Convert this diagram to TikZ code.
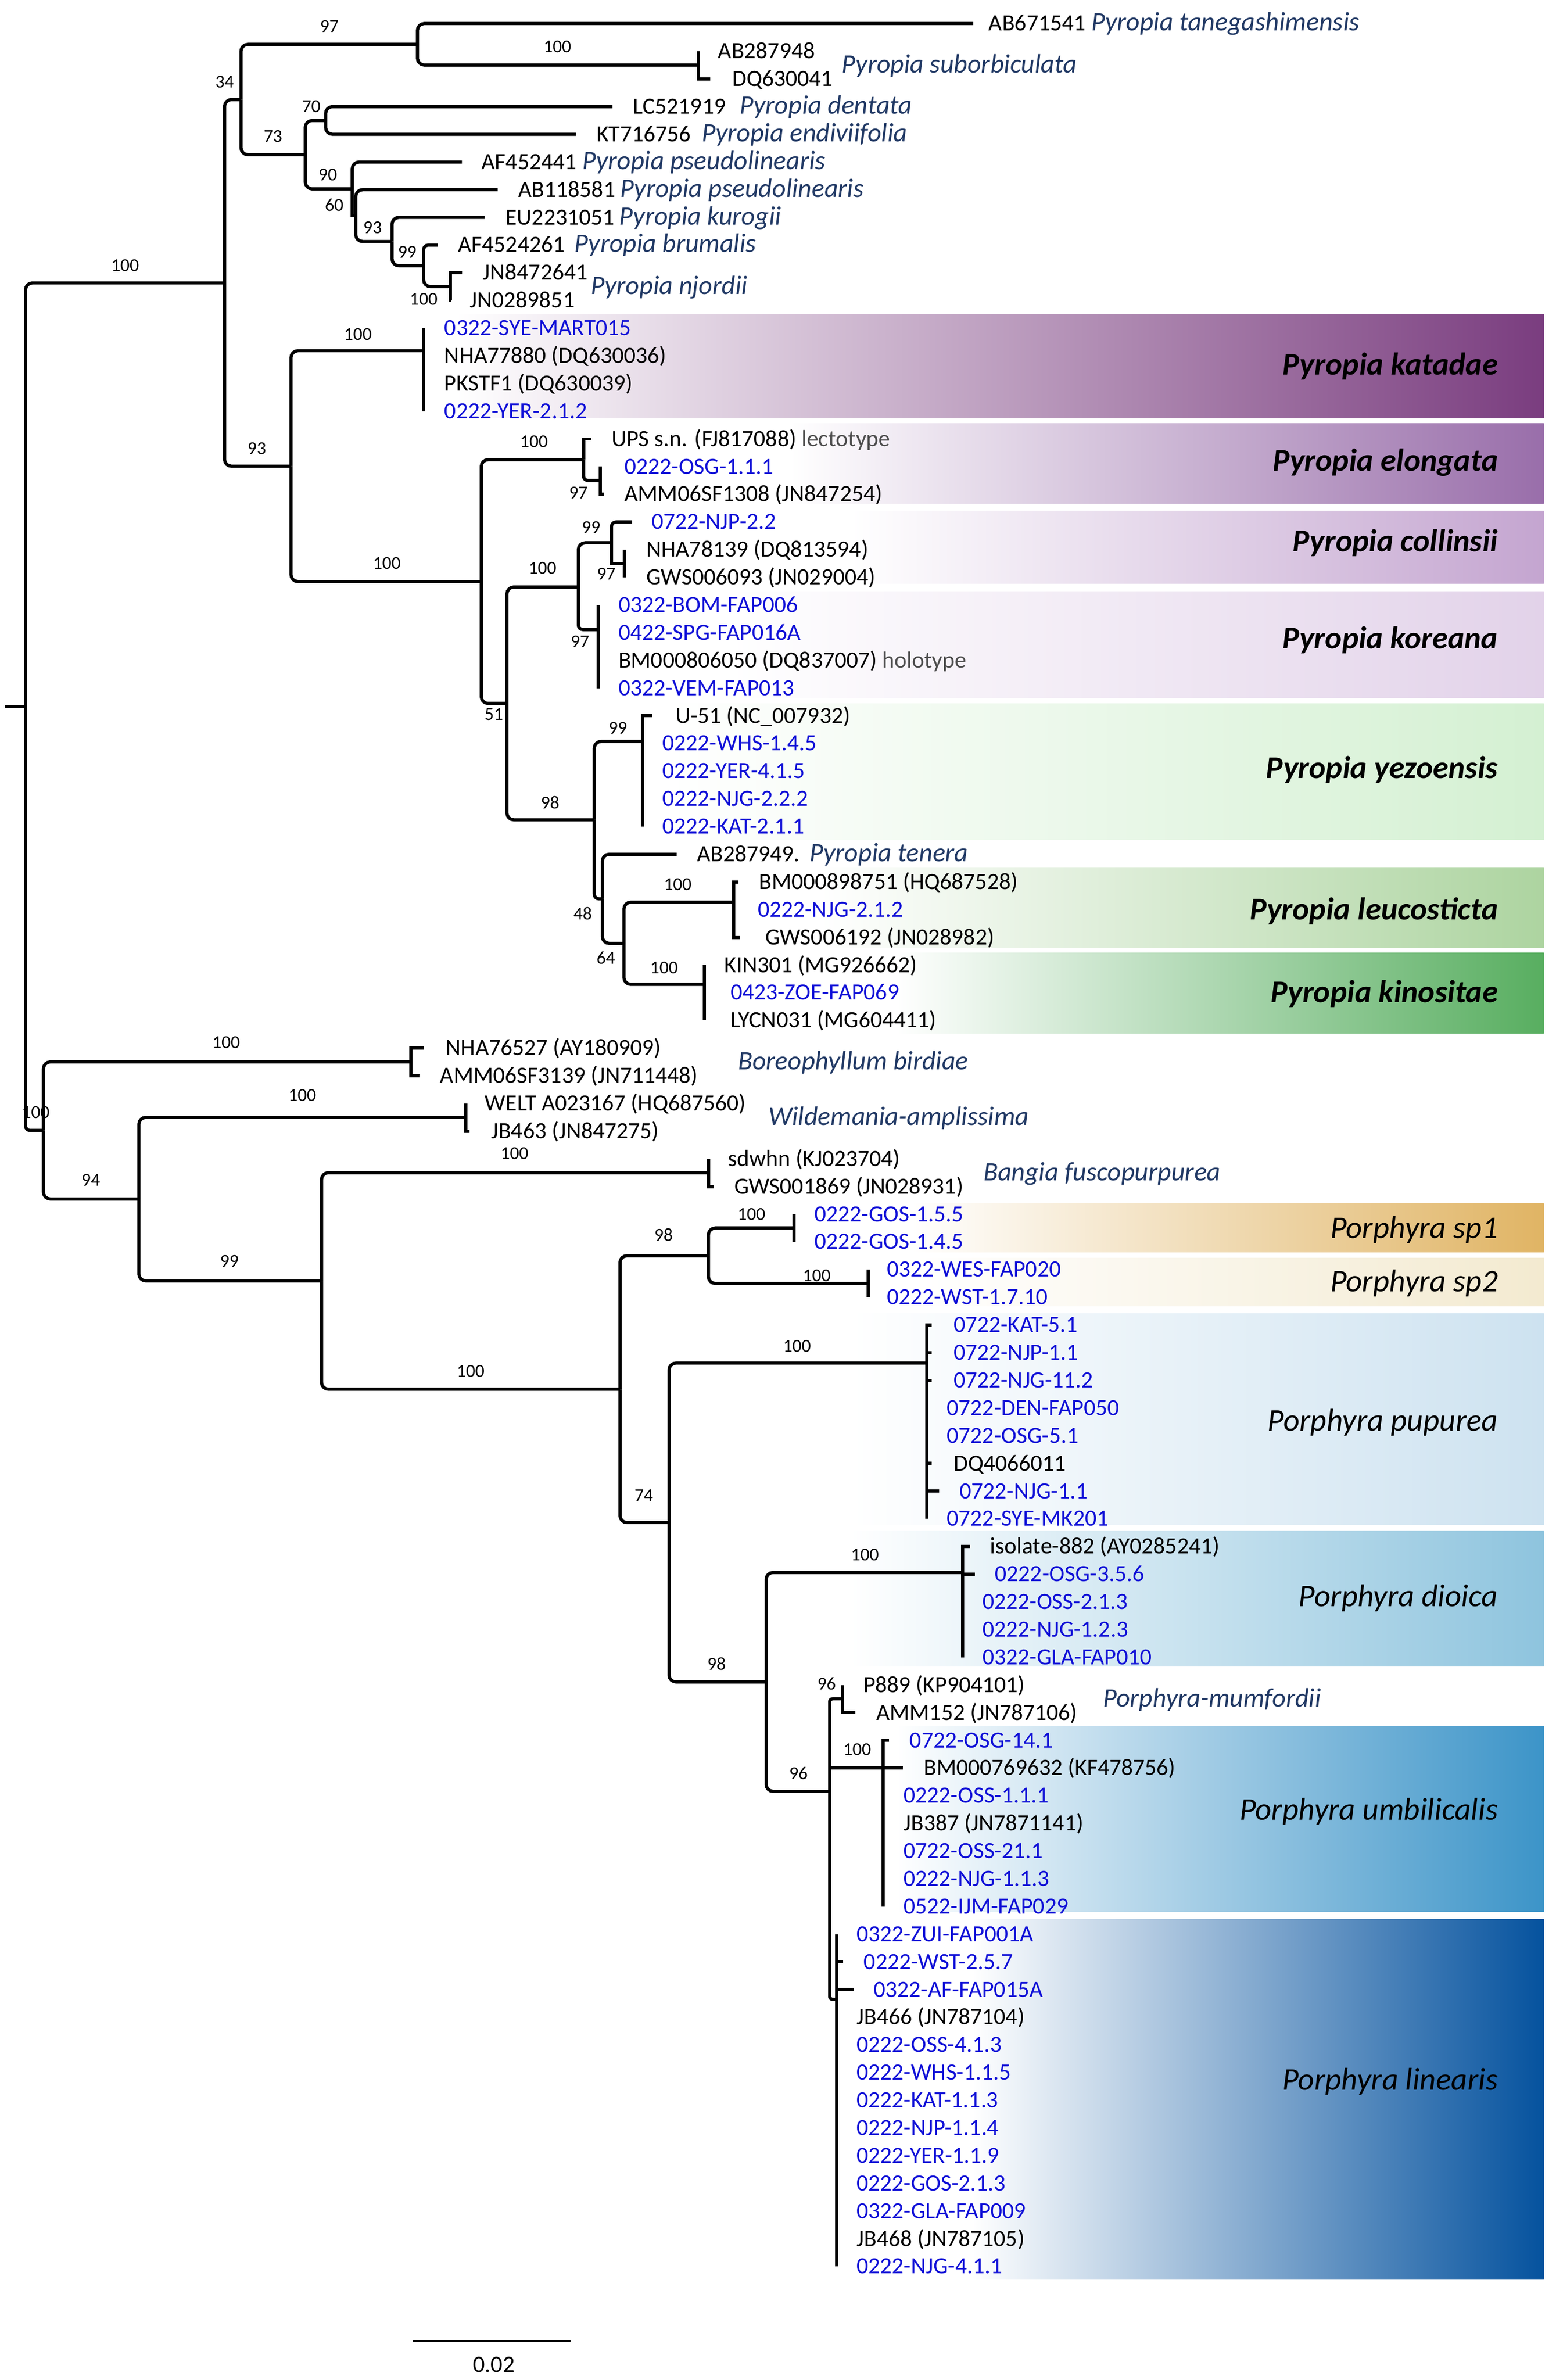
\documentclass[tikz,border=0pt]{standalone}
\usepackage{fontspec}
\setmainfont{Carlito}
\definecolor{navy}{RGB}{32,56,100}
\definecolor{lblue}{RGB}{15,15,215}
\definecolor{bk1}{RGB}{122,61,127}
\definecolor{bk2}{RGB}{153,110,170}
\definecolor{bk3}{RGB}{196,165,208}
\definecolor{bk4}{RGB}{226,210,233}
\definecolor{bk5}{RGB}{212,240,210}
\definecolor{bk6}{RGB}{173,212,160}
\definecolor{bk7}{RGB}{88,174,96}
\definecolor{bk8}{RGB}{224,180,100}
\definecolor{bk9}{RGB}{243,234,208}
\definecolor{bk10}{RGB}{205,226,240}
\definecolor{bk11}{RGB}{142,196,222}
\definecolor{bk12}{RGB}{60,148,200}
\definecolor{bk13}{RGB}{5,82,158}
\newcommand\TY[1]{(15.5+18.222*#1)}
\newcommand\tip[5]{\coordinate (e#1) at (#2,{\TY{#1}}); \node[#4] (l#1) at (#3,{\TY{#1}+4.8}) {#5};}
\newcommand\half[3][brr]{\draw[#1] (#3) -- (#2 |- #3) -- (#2);}
\newcommand\vhalf[2]{\draw[br] (#1 |- #2) -- (#1);}
\newcommand\midc[2]{\draw[br] (#1 |- #2) -- (#2);}
\tikzset{
  br/.style={line width=2.1pt, line join=miter},
  brr/.style={br, rounded corners=4.5pt},
  brt/.style={br, rounded corners=3pt},
  brs/.style={br, rounded corners=2pt},
  bs/.style={inner sep=0pt, font=\fontsize{12}{12}\selectfont},
  tl/.style={anchor=base west, inner sep=0pt, font=\fontsize{15.3}{16}\selectfont},
  tb/.style={tl, text=lblue},
  sp/.style={anchor=base west, inner sep=0pt, text=navy, font=\fontsize{17.5}{18}\selectfont\itshape},
  cl/.style={anchor=base east, inner sep=0pt, font=\fontsize{20.8}{22}\selectfont\itshape},
  clb/.style={anchor=base east, inner sep=0pt, font=\fontsize{20.8}{22}\selectfont\bfseries\itshape},
}
\begin{document}
\begin{tikzpicture}[x=1pt,y=-1pt]
\useasboundingbox (0,0) rectangle (1024,1566.2);
% clade boxes
\shade[left color=white, right color=bk1] (300,206.7) rectangle (1016,275);
\shade[left color=white, right color=bk2] (520,278.6) rectangle (1016,331.4);
\shade[left color=white, right color=bk3] (560,336.4) rectangle (1016,384);
\shade[left color=white, right color=bk4] (480,389.4) rectangle (1016,459);
\shade[left color=white, right color=bk5] (440,462.9) rectangle (1016,552.5);
\shade[left color=white, right color=bk6] (540,570.7) rectangle (1016,623.7);
\shade[left color=white, right color=bk7] (590,627) rectangle (1016,680);
\shade[left color=white, right color=bk8] (600,792) rectangle (1016,824);
\shade[left color=white, right color=bk9] (600,828) rectangle (1016,859.5);
\shade[left color=white, right color=bk10] (560,864.4) rectangle (1016,1003.5);
\shade[left color=white, right color=bk11] (560,1007.6) rectangle (1016,1096.5);
\shade[left color=white, right color=bk12] (590,1136) rectangle (1016,1258);
\shade[left color=white, right color=bk13] (640,1263) rectangle (1016,1500);
% internal nodes
\coordinate (r0) at (3,465);
\coordinate (nR) at (16.8,465);
\coordinate (nA) at (147.8,186.2);
\coordinate (nB) at (28.6,743.9);
\coordinate (n34) at (158.6,65.5);
\coordinate (n93) at (191.5,306.8);
\coordinate (n97) at (274.7,29.2);
\coordinate (nSub) at (459.8,42.8);
\coordinate (n73) at (200.9,101.8);
\coordinate (n70) at (214.3,79.3);
\coordinate (n90) at (231.8,124.3);
\coordinate (n60) at (234.1,141.9);
\coordinate (n93b) at (258,158.9);
\coordinate (n99) at (278.8,174.9);
\coordinate (nNj) at (296.3,188.6);
\coordinate (nKat) at (278.8,230.8);
\coordinate (n100b) at (316.7,382.7);
\coordinate (nElo) at (384,302.5);
\coordinate (n97e) at (395,316.2);
\coordinate (n51) at (333.6,462.9);
\coordinate (n100c) at (380.6,386.3);
\coordinate (n99c) at (402.4,357.2);
\coordinate (n97c) at (410.8,370.8);
\coordinate (nKor) at (393.8,414.3);
\coordinate (n98) at (391.1,539.5);
\coordinate (n99y) at (422.8,487.9);
\coordinate (n48) at (396.4,591.5);
\coordinate (n64) at (410.6,620.8);
\coordinate (nLeu) at (483,593.7);
\coordinate (nKin) at (463.5,647.8);
\coordinate (nBor) at (270.4,698.8);
\coordinate (n94) at (91.4,789);
\coordinate (nWil) at (306.4,735.3);
\coordinate (n99b) at (211.6,842.9);
\coordinate (nBan) at (466.5,771.7);
\coordinate (n100p) at (408,914.2);
\coordinate (n98p) at (466.2,826.4);
\coordinate (nSp1) at (522.5,808.1);
\coordinate (nSp2) at (571.3,844.6);
\coordinate (n74) at (440.3,1001.9);
\coordinate (nPur) at (610,897);
\coordinate (n98d) at (504.2,1106.8);
\coordinate (nDio) at (633.5,1034.8);
\coordinate (n96) at (546,1178.8);
\coordinate (nMum) at (554.5,1117.9);
\coordinate (nUmb) at (581.1,1163.5);
\coordinate (nLin) at (550.7,1315.7);
% tips
\tip{0}{640.5}{650.5}{tl}{AB671541}
\node[sp] (s0) at (718,{\TY{0}+4.8}) {Pyropia tanegashimensis};
\tip{1}{459.8}{472.4}{tl}{AB287948}
\tip{2}{467.4}{481.7}{tl}{DQ630041}
\node[sp] (s1) at (553.9,48) {Pyropia suborbiculata};
\tip{3}{403}{416.5}{tl}{LC521919}
\node[sp] (s3) at (486.7,{\TY{3}+4.8}) {Pyropia dentata};
\tip{4}{379}{392.5}{tl}{KT716756}
\node[sp] (s4) at (461.7,{\TY{4}+4.8}) {Pyropia endiviifolia};
\tip{5}{304}{316.8}{tl}{AF452441}
\node[sp] (s5) at (383,{\TY{5}+4.8}) {Pyropia pseudolinearis};
\tip{6}{327.5}{341}{tl}{AB118581}
\node[sp] (s6) at (408.1,{\TY{6}+4.8}) {Pyropia pseudolinearis};
\tip{7}{319}{332.6}{tl}{EU2231051}
\node[sp] (s7) at (407.4,{\TY{7}+4.8}) {Pyropia kurogii};
\tip{8}{288}{301.3}{tl}{AF4524261}
\node[sp] (s8) at (377.9,{\TY{8}+4.8}) {Pyropia brumalis};
\tip{9}{304}{317.5}{tl}{JN8472641}
\tip{10}{297}{309}{tl}{JN0289851}
\node[sp] (s9) at (388.7,193.8) {Pyropia njordii};
\tip{11}{278.8}{292.3}{tb}{0322-SYE-MART015}
\tip{12}{278.8}{292.3}{tl}{NHA77880 (DQ630036)}
\tip{13}{278.8}{292.3}{tl}{PKSTF1 (DQ630039)}
\tip{14}{278.8}{292.3}{tb}{0222-YER-2.1.2}
\tip{15}{389}{402.4}{tl}{UPS s.n. (FJ817088) {\color{black!70}lectotype}}
\tip{16}{395}{410.8}{tb}{0222-OSG-1.1.1}
\tip{17}{397.4}{410.8}{tl}{AMM06SF1308 (JN847254)}
\tip{18}{415.9}{428.6}{tb}{0722-NJP-2.2}
\tip{19}{410.8}{425.2}{tl}{NHA78139 (DQ813594)}
\tip{20}{410.8}{425.2}{tl}{GWS006093 (JN029004)}
\tip{21}{393.8}{406.8}{tb}{0322-BOM-FAP006}
\tip{22}{393.8}{406.8}{tb}{0422-SPG-FAP016A}
\tip{23}{393.8}{406.8}{tl}{BM000806050 (DQ837007) {\color{black!70}holotype}}
\tip{24}{393.8}{406.8}{tb}{0322-VEM-FAP013}
\tip{25}{429}{444.4}{tl}{U-51 (NC\_007932)}
\tip{26}{422.8}{435.8}{tb}{0222-WHS-1.4.5}
\tip{27}{422.8}{435.8}{tb}{0222-YER-4.1.5}
\tip{28}{422.8}{435.8}{tb}{0222-NJG-2.2.2}
\tip{29}{422.8}{435.8}{tb}{0222-KAT-2.1.1}
\tip{30}{445.3}{458.6}{tl}{AB287949.}
\node[sp] (s30) at (532.7,{\TY{30}+4.8}) {Pyropia tenera};
\tip{31}{486}{499.3}{tl}{BM000898751 (HQ687528)}
\tip{32}{483}{498.5}{tb}{0222-NJG-2.1.2}
\tip{33}{487}{503.4}{tl}{GWS006192 (JN028982)}
\tip{34}{463.5}{476.5}{tl}{KIN301 (MG926662)}
\tip{35}{463.5}{480.6}{tb}{0423-ZOE-FAP069}
\tip{36}{463.5}{480.6}{tl}{LYCN031 (MG604411)}
\tip{37}{278.8}{293.3}{tl}{NHA76527 (AY180909)}
\tip{38}{276}{289.5}{tl}{AMM06SF3139 (JN711448)}
\node[sp] (s37) at (485.5,704) {Boreophyllum birdiae};
\tip{39}{306.4}{319}{tl}{WELT A023167 (HQ687560)}
\tip{40}{309}{323}{tl}{JB463 (JN847275)}
\node[sp] (s39) at (505.5,740.5) {Wildemania-amplissima};
\tip{41}{466.5}{479}{tl}{sdwhn (KJ023704)}
\tip{42}{470}{483}{tl}{GWS001869 (JN028931)}
\node[sp] (s41) at (647,776.9) {Bangia fuscopurpurea};
\tip{43}{522.5}{535.8}{tb}{0222-GOS-1.5.5}
\tip{44}{522.5}{535.8}{tb}{0222-GOS-1.4.5}
\tip{45}{571.3}{583.5}{tb}{0322-WES-FAP020}
\tip{46}{571.3}{583.5}{tb}{0222-WST-1.7.10}
\tip{47}{613}{627.4}{tb}{0722-KAT-5.1}
\tip{48}{613}{627.4}{tb}{0722-NJP-1.1}
\tip{49}{613}{627.4}{tb}{0722-NJG-11.2}
\tip{50}{610}{623}{tb}{0722-DEN-FAP050}
\tip{51}{610}{623}{tb}{0722-OSG-5.1}
\tip{52}{613}{627.4}{tl}{DQ4066011}
\tip{53}{618}{631.4}{tb}{0722-NJG-1.1}
\tip{54}{610}{623}{tb}{0722-SYE-MK201}
\tip{55}{638.4}{651.4}{tl}{isolate-882 (AY0285241)}
\tip{56}{641.5}{654.6}{tb}{0222-OSG-3.5.6}
\tip{57}{633.5}{646.4}{tb}{0222-OSS-2.1.3}
\tip{58}{633.5}{646.4}{tb}{0222-NJG-1.2.3}
\tip{59}{633.5}{646.4}{tb}{0322-GLA-FAP010}
\tip{60}{554.5}{568}{tl}{P889 (KP904101)}
\tip{61}{562.9}{576.5}{tl}{AMM152 (JN787106)}
\node[sp] (s60) at (725.8,1123.1) {Porphyra-mumfordii};
\tip{62}{585.2}{598.5}{tb}{0722-OSG-14.1}
\tip{63}{594}{607.9}{tl}{BM000769632 (KF478756)}
\tip{64}{581.1}{594.5}{tb}{0222-OSS-1.1.1}
\tip{65}{581.1}{594.5}{tl}{JB387 (JN7871141)}
\tip{66}{581.1}{594.5}{tb}{0722-OSS-21.1}
\tip{67}{581.1}{594.5}{tb}{0222-NJG-1.1.3}
\tip{68}{581.1}{594.5}{tb}{0522-IJM-FAP029}
\tip{69}{550.7}{563.6}{tb}{0322-ZUI-FAP001A}
\tip{70}{554.8}{568.3}{tb}{0222-WST-2.5.7}
\tip{71}{561.8}{574.8}{tb}{0322-AF-FAP015A}
\tip{72}{550.7}{563.6}{tl}{JB466 (JN787104)}
\tip{73}{550.7}{563.6}{tb}{0222-OSS-4.1.3}
\tip{74}{550.7}{563.6}{tb}{0222-WHS-1.1.5}
\tip{75}{550.7}{563.6}{tb}{0222-KAT-1.1.3}
\tip{76}{550.7}{563.6}{tb}{0222-NJP-1.1.4}
\tip{77}{550.7}{563.6}{tb}{0222-YER-1.1.9}
\tip{78}{550.7}{563.6}{tb}{0222-GOS-2.1.3}
\tip{79}{550.7}{563.6}{tb}{0322-GLA-FAP009}
\tip{80}{550.7}{563.6}{tl}{JB468 (JN787105)}
\tip{81}{550.7}{563.6}{tb}{0222-NJG-4.1.1}
% branches
\draw[br] (r0) -- (nR);
\half{nR}{nA} \half[brt]{nR}{nB}
\half{nA}{n34} \half{nA}{n93}
\half{n34}{n97} \half{n34}{n73}
\half{n97}{e0} \half{n97}{nSub}
\vhalf{nSub}{e1} \half[br]{nSub}{e2}
\half{n73}{n70} \half{n73}{n90}
\half{n70}{e3} \half{n70}{e4}
\half{n90}{e5} \half[br]{n90}{n60}
\half{n60}{e6} \half{n60}{n93b}
\half{n93b}{e7} \half{n93b}{n99}
\half[brt]{n99}{e8} \half{n99}{nNj}
\half[br]{nNj}{e9} \half[br]{nNj}{e10}
\half{n93}{nKat} \half{n93}{n100b}
\vhalf{nKat}{e11} \vhalf{nKat}{e14}
\half{n100b}{nElo} \half{n100b}{n51}
\half[br]{nElo}{e15} \half[brt]{nElo}{n97e}
\vhalf{n97e}{e16} \half[br]{n97e}{e17}
\half{n51}{n100c} \half{n51}{n98}
\half{n100c}{n99c} \half[brt]{n100c}{nKor}
\half[brt]{n99c}{e18} \half[br]{n99c}{n97c}
\vhalf{n97c}{e19} \vhalf{n97c}{e20}
\vhalf{nKor}{e21} \vhalf{nKor}{e24}
\half{n98}{n99y} \half[brt]{n98}{n48}
\half[br]{n99y}{e25} \vhalf{n99y}{e29}
\half{n48}{e30} \half{n48}{n64}
\half{n64}{nLeu} \half{n64}{nKin}
\half[br]{nLeu}{e31} \half[br]{nLeu}{e33}
\vhalf{nKin}{e34} \vhalf{nKin}{e36}
\half{nB}{nBor} \half{nB}{n94}
\half[br]{nBor}{e37} \half[br]{nBor}{e38}
\half{n94}{nWil} \half{n94}{n99b}
\vhalf{nWil}{e39} \half[br]{nWil}{e40}
\half{n99b}{nBan} \half{n99b}{n100p}
\vhalf{nBan}{e41} \half[br]{nBan}{e42}
\half{n100p}{n98p} \half{n100p}{n74}
\half{n98p}{nSp1} \half{n98p}{nSp2}
\vhalf{nSp1}{e43} \vhalf{nSp1}{e44}
\vhalf{nSp2}{e45} \vhalf{nSp2}{e46}
\half{n74}{nPur} \half{n74}{n98d}
\half[br]{nPur}{e47} \vhalf{nPur}{e54}
\midc{nPur}{e48} \midc{nPur}{e49} \midc{nPur}{e52} \midc{nPur}{e53}
\half{n98d}{nDio} \half{n98d}{n96}
\half[br]{nDio}{e55} \vhalf{nDio}{e59} \midc{nDio}{e56}
\half[brs]{n96}{nMum} \midc{n96}{nUmb} \half[brs]{n96}{nLin}
\vhalf{nMum}{e60} \half[br]{nMum}{e61}
\half[br]{nUmb}{e62} \vhalf{nUmb}{e68} \midc{nUmb}{e63}
\vhalf{nLin}{e69} \vhalf{nLin}{e81} \midc{nLin}{e70} \midc{nLin}{e71}
% bootstrap values
\node[bs] (b1) at (82.3,174.7) {100};
\node[bs] (b2) at (23.5,732) {100};
\node[bs] (b3) at (147.8,53.8) {34};
\node[bs] (b4) at (169,295) {93};
\node[bs] (b5) at (216.7,17.5) {97};
\node[bs] (b6) at (179.7,89.8) {73};
\node[bs] (b7) at (366.8,30.9) {100};
\node[bs] (b8) at (204.9,69.9) {70};
\node[bs] (b9) at (215.7,114.9) {90};
\node[bs] (b10) at (220,135) {60};
\node[bs] (b11) at (245.2,149.8) {93};
\node[bs] (b12) at (268,165.9) {99};
\node[bs] (b13) at (278.8,196.8) {100};
\node[bs] (b14) at (235.5,220) {100};
\node[bs] (b15) at (254.6,370.6) {100};
\node[bs] (b16) at (351.4,290.7) {100};
\node[bs] (b17) at (380.6,324.4) {97};
\node[bs] (b18) at (325,470) {51};
\node[bs] (b19) at (357,373.8) {100};
\node[bs] (b20) at (389,347) {99};
\node[bs] (b21) at (399,377.7) {97};
\node[bs] (b22) at (381.7,422.4) {97};
\node[bs] (b23) at (362,528) {98};
\node[bs] (b24) at (406.6,479.2) {99};
\node[bs] (b25) at (383.5,601) {48};
\node[bs] (b26) at (398.7,630.5) {64};
\node[bs] (b27) at (446,582) {100};
\node[bs] (b28) at (437,636.8) {100};
\node[bs] (b29) at (148.8,686) {100};
\node[bs] (b30) at (59.8,776.7) {94};
\node[bs] (b31) at (198.9,720.7) {100};
\node[bs] (b32) at (151,830) {99};
\node[bs] (b33) at (338.6,759) {100};
\node[bs] (b34) at (309.7,902.2) {100};
\node[bs] (b35) at (436.7,812.5) {98};
\node[bs] (b36) at (494.5,799) {100};
\node[bs] (b37) at (537.5,839.3) {100};
\node[bs] (b38) at (423.7,984.3) {74};
\node[bs] (b39) at (524.5,885.8) {100};
\node[bs] (b40) at (471.6,1094.8) {98};
\node[bs] (b41) at (569.2,1023.1) {100};
\node[bs] (b42) at (525.5,1166.8) {96};
\node[bs] (b43) at (544,1108) {96};
\node[bs] (b44) at (564.1,1151.2) {100};
% clade labels
\node[clb] (c1) at (986,246.8) {Pyropia katadae};
\node[clb] (c2) at (986,309.8) {Pyropia elongata};
\node[clb] (c3) at (986,363) {Pyropia collinsii};
\node[clb] (c4) at (986,427) {Pyropia koreana};
\node[clb] (c5) at (986,512.2) {Pyropia yezoensis};
\node[clb] (c6) at (986,605.4) {Pyropia leucosticta};
\node[clb] (c7) at (986,659.5) {Pyropia kinositae};
\node[cl] (c8) at (986,814.8) {Porphyra sp1};
\node[cl] (c9) at (986,850) {Porphyra sp2};
\node[cl] (c10) at (986,941.7) {Porphyra pupurea};
\node[cl] (c11) at (986,1057.1) {Porphyra dioica};
\node[cl] (c12) at (986,1197.7) {Porphyra umbilicalis};
\node[cl] (c13) at (986,1375.4) {Porphyra linearis};
% scale bar
\coordinate (sbL) at (272.3,1540.5);
\coordinate (sbR) at (375,1540.5);
\draw[line width=1.3pt, line cap=round] (sbL) -- (sbR);
\node[inner sep=0pt, font=\fontsize{15.6}{16}\selectfont] (sbT) at (325,1556) {0.02};
\end{tikzpicture}
\end{document}
